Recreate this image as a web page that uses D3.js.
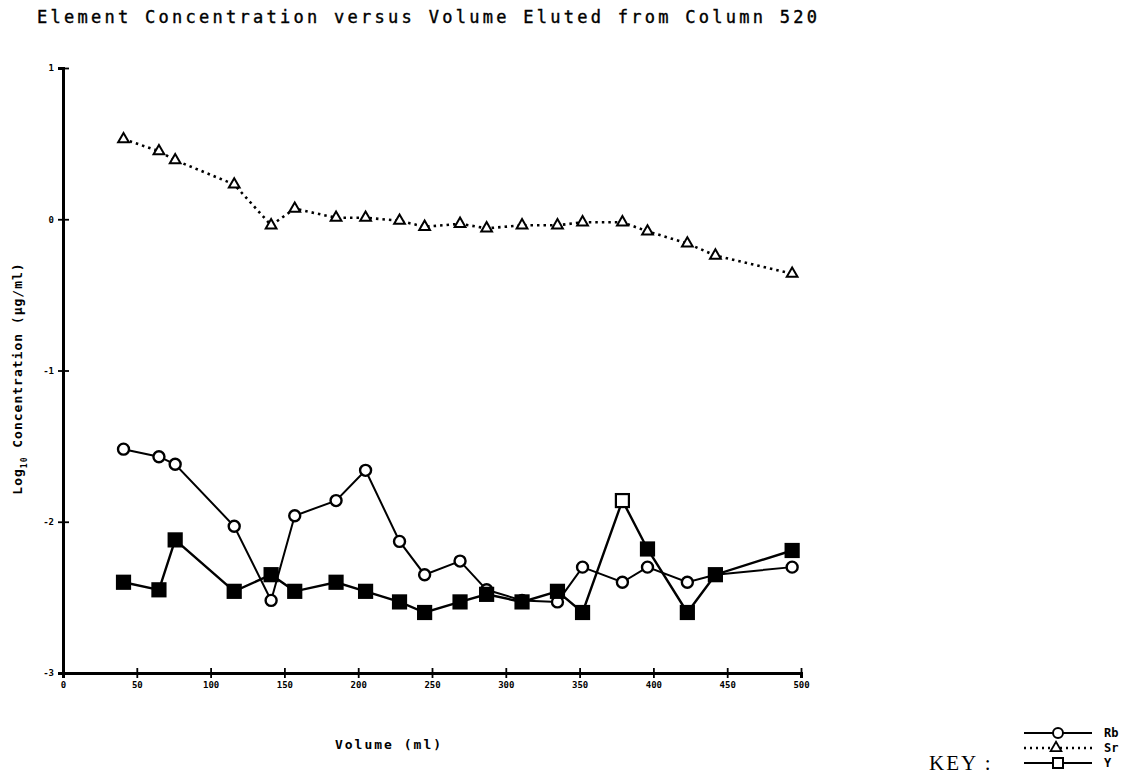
<!DOCTYPE html>
<html>
<head>
<meta charset="utf-8">
<script src="https://cdn.jsdelivr.net/npm/d3@7"></script>
<style>
  body { margin: 0; background: #fff; }
  .tick text { font-family: "DejaVu Sans Mono", monospace; font-weight: bold; font-size: 9px; fill: #000; }
</style>
</head>
<body>
<div class="chart"></div>
<script>
// volumes (ml) where each fraction was sampled
let volumes = [41, 65, 76, 116, 141, 157, 185, 205, 228, 245, 269, 287, 311, 335, 352, 379, 396, 423, 442, 494];
let rbValues = [-1.52, -1.57, -1.62, -2.03, -2.52, -1.96, -1.86, -1.66, -2.13, -2.35, -2.26, -2.45, -2.52, -2.53, -2.30, -2.40, -2.30, -2.40, -2.35, -2.30];
let srValues = [0.53, 0.45, 0.39, 0.23, -0.04, 0.07, 0.01, 0.01, -0.01, -0.05, -0.03, -0.06, -0.04, -0.04, -0.02, -0.02, -0.08, -0.16, -0.24, -0.36];
let yValues = [-2.40, -2.45, -2.12, -2.46, -2.35, -2.46, -2.40, -2.46, -2.53, -2.60, -2.53, -2.48, -2.53, -2.46, -2.60, -1.86, -2.18, -2.60, -2.35, -2.19];
// the Y point that was plotted as an open square
let yOpen = [false, false, false, false, false, false, false, false, false, false, false, false, false, false, false, true, false, false, false, false];
let xTicks = [0, 50, 100, 150, 200, 250, 300, 350, 400, 450, 500];
let yTicks = [1, 0, -1, -2, -3];
let seriesNames = ["Rb", "Sr", "Y"];

let svgWidth = 1145;
let svgHeight = 777;

let svg = d3.select(".chart")
  .append("svg")
  .attr("width", svgWidth)
  .attr("height", svgHeight);

let xScale = d3.scaleLinear().domain([0, 500]).range([63, 801]);
let yScale = d3.scaleLinear().domain([-3, 1]).range([673, 68]);

// title
svg.append("text")
  .attr("x", 37)
  .attr("y", 23)
  .attr("textLength", 780)
  .attr("lengthAdjust", "spacing")
  .style("font-family", "DejaVu Sans Mono")
  .style("font-size", "17px")
  .style("stroke", "#000")
  .style("stroke-width", 0.4)
  .text("Element Concentration versus Volume Eluted from Column 520");

// axes
let bottomAxis = d3.axisBottom(xScale).tickValues(xTicks).tickSize(5).tickPadding(4);
let leftAxis = d3.axisLeft(yScale).tickValues(yTicks).tickSize(5).tickPadding(4);

let xAxis = svg.append("g")
  .attr("transform", `translate(0, ${yScale(-3)})`)
  .call(bottomAxis);
xAxis.selectAll(".tick line").attr("y1", -5).attr("stroke-width", 1.8);
xAxis.select(".domain").attr("stroke-width", 3);

let yAxis = svg.append("g")
  .attr("transform", `translate(${xScale(0)}, 0)`)
  .call(leftAxis);
yAxis.selectAll(".tick line").attr("x1", 6).attr("x2", -5).attr("stroke-width", 1.8);
yAxis.select(".domain").attr("stroke-width", 3);
yAxis.selectAll(".tick text").text(d => d < 0 ? "-" + Math.abs(d) : d);

// axis titles
let yTitle = svg.append("text")
  .attr("transform", `translate(22, ${(yScale(-3) + yScale(1)) / 2 + 8}) rotate(-90)`)
  .attr("text-anchor", "middle")
  .style("font-family", "DejaVu Sans Mono")
  .style("font-weight", "bold")
  .style("font-size", "13px")
  .style("letter-spacing", "1px");
yTitle.append("tspan").text("Log");
yTitle.append("tspan").attr("dy", 5).style("font-size", "8px").text("10");
yTitle.append("tspan").attr("dy", -5).text(" Concentration  (\u03bcg/ml)");

svg.append("text")
  .attr("x", 389)
  .attr("y", 749)
  .attr("text-anchor", "middle")
  .style("font-family", "DejaVu Sans Mono")
  .style("font-weight", "bold")
  .style("font-size", "13px")
  .style("letter-spacing", "2px")
  .text("Volume  (ml)");

// data rows
let rows = volumes.map((v, i) => ({v: v, rb: rbValues[i], sr: srValues[i], y: yValues[i], open: yOpen[i]}));

let lineRb = d3.line().x(d => xScale(d.v)).y(d => yScale(d.rb));
let lineSr = d3.line().x(d => xScale(d.v)).y(d => yScale(d.sr));
let lineY = d3.line().x(d => xScale(d.v)).y(d => yScale(d.y));

svg.append("path").datum(rows)
  .attr("d", lineSr)
  .attr("fill", "none")
  .attr("stroke", "#000")
  .attr("stroke-width", 2.6)
  .attr("stroke-dasharray", "2.5,4");

svg.append("path").datum(rows)
  .attr("d", lineRb)
  .attr("fill", "none")
  .attr("stroke", "#000")
  .attr("stroke-width", 2);

svg.append("path").datum(rows)
  .attr("d", lineY)
  .attr("fill", "none")
  .attr("stroke", "#000")
  .attr("stroke-width", 2.4);

let triangle = d3.symbol().type(d3.symbolTriangle).size(50);

svg.selectAll(".srMark")
  .data(rows)
  .enter()
  .append("path")
  .classed("srMark", true)
  .attr("transform", d => `translate(${xScale(d.v)}, ${yScale(d.sr)})`)
  .attr("d", triangle)
  .attr("fill", "#fff")
  .attr("stroke", "#000")
  .attr("stroke-width", 2);

svg.selectAll(".rbMark")
  .data(rows)
  .enter()
  .append("circle")
  .classed("rbMark", true)
  .attr("cx", d => xScale(d.v))
  .attr("cy", d => yScale(d.rb))
  .attr("r", 5.5)
  .attr("fill", "#fff")
  .attr("stroke", "#000")
  .attr("stroke-width", 2.4);

svg.selectAll(".yMark")
  .data(rows)
  .enter()
  .append("rect")
  .classed("yMark", true)
  .attr("x", d => xScale(d.v) - 6.5)
  .attr("y", d => yScale(d.y) - 6.5)
  .attr("width", 13)
  .attr("height", 13)
  .attr("fill", d => d.open ? "#fff" : "#000")
  .attr("stroke", "#000")
  .attr("stroke-width", 2.2);

// key
let legend = svg.append("g").attr("transform", "translate(1024, 733)");

seriesNames.forEach(function(name, i) {
  let row = legend.append("g").attr("transform", `translate(0, ${i * 15})`);
  let line = row.append("line")
    .attr("x1", 0).attr("x2", 68)
    .attr("y1", 0).attr("y2", 0)
    .attr("stroke", "#000")
    .attr("stroke-width", name === "Sr" ? 2.4 : 1.8);
  if (name === "Sr") line.attr("stroke-dasharray", "2,4");
  if (name === "Rb") {
    row.append("circle").attr("cx", 34).attr("cy", 0).attr("r", 5)
      .attr("fill", "#fff").attr("stroke", "#000").attr("stroke-width", 2);
  }
  else if (name === "Sr") {
    row.append("path").attr("transform", "translate(32, 0)").attr("d", triangle)
      .attr("fill", "#fff").attr("stroke", "#000").attr("stroke-width", 1.8);
  }
  else {
    row.append("rect").attr("x", 29).attr("y", -5).attr("width", 10).attr("height", 10)
      .attr("fill", "#fff").attr("stroke", "#000").attr("stroke-width", 2);
  }
  row.append("text")
    .attr("x", 80)
    .attr("y", 4)
    .style("font-family", "DejaVu Sans Mono")
    .style("font-weight", "bold")
    .style("font-size", "12px")
    .text(name);
});

svg.append("text")
  .attr("x", 929)
  .attr("y", 770)
  .style("font-family", "Liberation Serif")
  .style("font-size", "21px")
  .style("letter-spacing", "2px")
  .text("KEY :");
</script>
</body>
</html>
